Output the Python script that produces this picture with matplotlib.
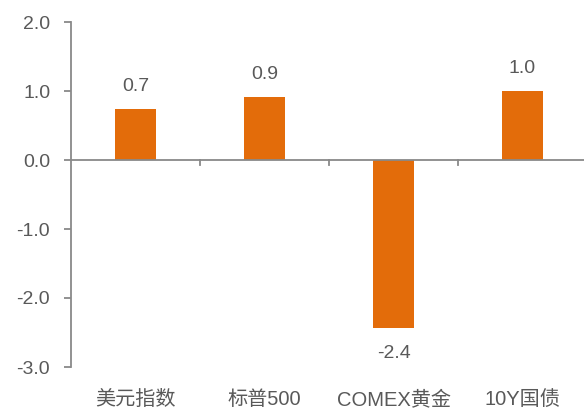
import matplotlib
matplotlib.use("Agg")
import matplotlib.pyplot as plt
import numpy as np

categories = ["美元指数", "标普500", "COMEX黄金", "10Y国债"]
values = [0.74, 0.92, -2.44, 1.0]
labels = ["0.7", "0.9", "-2.4", "1.0"]
yticks = [-3.0, -2.0, -1.0, 0.0, 1.0, 2.0]

plt.rcParams['font.family'] = ['Liberation Sans', 'Noto Sans CJK SC', 'DejaVu Sans']
txt = '#595959'
spine = '#898989'
bar_color = '#E36C0A'

fig = plt.figure(figsize=(5.84, 4.12), dpi=100)
ax = fig.add_axes([71/584, 1-367/412, 516/584, (367-22)/412])
x = np.arange(len(categories))
ax.bar(x, values, width=0.32, color=bar_color, zorder=2)
ax.set_xlim(-0.5, 3.5)
ax.set_ylim(-3.0, 2.0)
ax.set_yticks(yticks)
ax.set_yticklabels([f"{v:.1f}" for v in yticks])
for s in ['top', 'right', 'bottom']:
    ax.spines[s].set_visible(False)
ax.spines['left'].set_color(spine)
ax.spines['left'].set_linewidth(1.3)
ax.axhline(0, color=spine, lw=1.3, zorder=3)
ax.tick_params(axis='y', direction='out', length=5, color=spine, width=1.3,
               labelsize=14, labelcolor=txt, pad=10)
ax.set_xticks([])
# category boundary ticks on zero line
for b in [0.5, 1.5, 2.5]:
    ax.plot([b, b], [0, -0.07], color=spine, lw=1.3, zorder=3, clip_on=False)
for xi, v, lab in zip(x, values, labels):
    if v >= 0:
        ax.text(xi, v + 0.32, lab, ha='center', va='center', fontsize=14, color=txt)
    else:
        ax.text(xi, v - 0.36, lab, ha='center', va='center', fontsize=14, color=txt)
for xi, c in zip(x, categories):
    ax.text(xi, -3.47, c, ha='center', va='center', fontsize=14.5, color=txt, clip_on=False)
fig.savefig("out.png", dpi=100)
